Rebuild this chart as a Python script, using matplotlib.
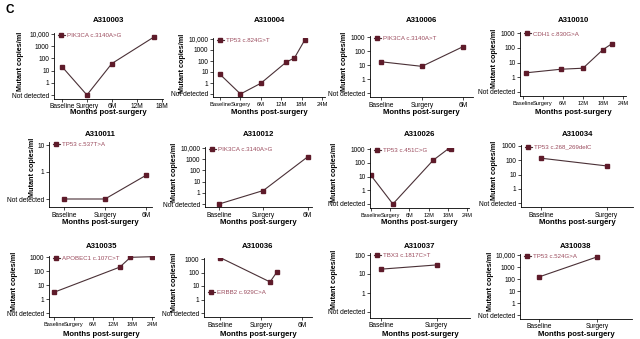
import matplotlib
matplotlib.use("Agg")
import matplotlib.pyplot as plt
import numpy as np

W, H = 640, 339
ND = 0.1  # where "Not detected" sits on the log axis

XLABELS = ["Baseline", "Surgery", "6M", "12M", "18M", "24M"]
YLABELS = {-1: "Not detected", 0: "1", 1: "10", 2: "100", 3: "1000", 4: "10,000"}

PATIENTS = ["A310003", "A310004", "A310006", "A310010",
            "A310011", "A310012", "A310026", "A310034",
            "A310035", "A310036", "A310037", "A310038"]
MUTATIONS = ["PIK3CA c.3140A>G", "TP53 c.824G>T", "PIK3CA c.3140A>T", "CDH1 c.830G>A",
             "TP53 c.537T>A", "PIK3CA c.3140A>G", "TP53 c.451C>G", "TP53 c.268_269delC",
             "APOBEC1 c.107C>T", "ERBB2 c.929C>A", "TBX3 c.1817C>T", "TP53 c.524G>A"]
N_XTICKS = [5, 6, 3, 6, 3, 3, 6, 2, 6, 3, 2, 2]
Y_MAX_EXP = [4, 4, 3, 3, 1, 4, 3, 3, 3, 3, 2, 4]

# sample times (in tick units: 0 baseline, 1 surgery, 2 = 6M ...) and copies/ml (0 = not detected)
X_VALS = [
    [0, 1, 2, 3.67],
    [0, 1, 2, 3.25, 3.65, 4.17],
    [0, 1, 2],
    [0.15, 1.9, 3, 4, 4.45],
    [0, 1, 2],
    [0, 1, 2],
    [0, 1.14, 3.23, 4.05, 4.14],
    [0, 1],
    [0, 3.36, 3.9, 5],
    [0, 1.22, 1.39],
    [0, 1],
    [0, 1],
]
Y_VALS = [
    [21, 0, 38, 5400],
    [6, 0, 0.95, 80, 190, 9000],
    [17, 8, 200],
    [2, 3.5, 4.1, 75, 190],
    [0, 0, 0.75],
    [0, 1.6, 1600],
    [12, 0, 150, 1100, 1000],
    [140, 40],
    [3, 190, 950, 1050],
    [1250, 20, 110],
    [18, 30],
    [150, 7000],
]

# layout in pixels: left, right, top-tick y, not-detected y, xlim, y-label x
LAYOUT = [
    (54, 163, 34, 95, (-0.32, 4.05), 20),
    (213, 325, 39, 94, (-0.35, 5.15), 182),
    (370, 473, 37, 93, (-0.27, 2.25), 345),
    (520, 626, 33, 92, (-0.15, 5.15), 495),
    (49, 152, 145, 199, (-0.37, 2.15), 33),
    (205, 312, 148, 204, (-0.32, 2.1), 174),
    (370, 469, 149, 204, (-0.05, 5.1), 335),
    (521, 633, 146, 203, (-0.3, 1.4), 495),
    (49, 154, 257, 313, (-0.25, 5.1), 15),
    (204, 312, 259, 313, (-0.4, 2.25), 175),
    (370, 470, 255, 312, (-0.2, 1.6), 335),
    (520, 632, 255, 315, (-0.33, 1.6), 490),
]
TITLE_Y = [20, 20, 20, 20, 135, 135, 135, 135, 246, 246, 246, 246]
XLABEL_Y = [113, 113, 113, 113, 223, 223, 223, 223, 334, 334, 334, 334]

LINE_C = "#4a3036"
MARK_C = "#5e1b2a"
LEG_C = "#9a4a5c"

plt.rcParams["font.family"] = ["Liberation Sans", "DejaVu Sans"]
fig = plt.figure(figsize=(W / 100, H / 100), dpi=100)
fig.text(5 / W, 1 - 10 / H, "C", fontsize=8.5, fontweight="bold", va="center", ha="left")

for i, name in enumerate(PATIENTS):
    left, right, ytop, ynd, xlim, ylab_x = LAYOUT[i]
    emax = Y_MAX_EXP[i]
    dec = (ynd - ytop) / (emax + 1)
    top_px = ytop - 0.1 * dec
    bot_px = ynd + 0.3 * dec
    ax = fig.add_axes([left / W, 1 - bot_px / H, (right - left) / W, (bot_px - top_px) / H])

    yv = [v if v > 0 else ND for v in Y_VALS[i]]
    ax.plot(X_VALS[i], yv, color=LINE_C, lw=0.8, marker="s", ms=2.2,
            mfc=MARK_C, mec=MARK_C, label=MUTATIONS[i])
    ax.set_yscale("log")
    ax.set_ylim(10 ** -1.3, 10 ** (emax + 0.1))
    ax.set_xlim(*xlim)
    ax.minorticks_off()

    exps = list(range(-1, emax + 1))
    ax.set_yticks([10.0 ** e for e in exps])
    ax.set_yticklabels([YLABELS[e] for e in exps])
    n = N_XTICKS[i]
    ax.set_xticks(np.arange(n))
    ax.set_xticklabels(XLABELS[:n])
    ax.tick_params(labelsize=4.8, length=2, width=0.5, pad=1.3)
    spacing = (right - left) / (xlim[1] - xlim[0])
    ax.tick_params(axis="x", labelsize=min(4.8, spacing * 0.205))
    for s in ("top", "right"):
        ax.spines[s].set_visible(False)
    for s in ("left", "bottom"):
        ax.spines[s].set_linewidth(0.6)

    ylab_y = (top_px + ynd - 6) / 2
    fig.text(ylab_x / W, 1 - ylab_y / H, "Mutant copies/ml", rotation=90,
             fontsize=5.2, fontweight="bold", ha="center", va="center")
    fig.text((left + right) / 2 / W, 1 - XLABEL_Y[i] / H, "Months post-surgery",
             fontsize=5.6, fontweight="bold", ha="center", va="center")
    fig.text((left + right) / 2 / W, 1 - TITLE_Y[i] / H, name,
             fontsize=5.6, fontweight="bold", ha="center", va="center")

    if name == "A310036":
        loc, anchor = "center left", (0.0, 0.42)
    else:
        loc, anchor = "upper left", (0.0, 1.06)
    leg = ax.legend(loc=loc, bbox_to_anchor=anchor, frameon=False, fontsize=4.4,
                    handlelength=1.2, handletextpad=0.4, borderaxespad=0.2)
    for t in leg.get_texts():
        t.set_color(LEG_C)

fig.savefig("out.png", dpi=100)
